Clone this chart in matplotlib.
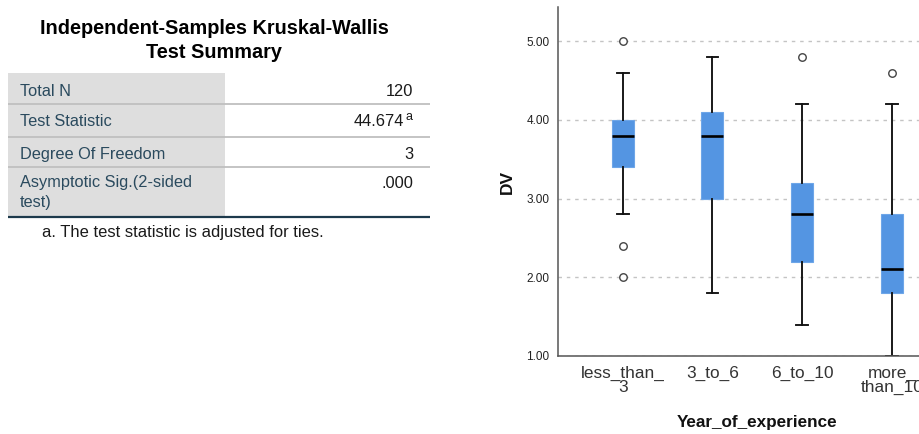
import matplotlib
matplotlib.use("Agg")
import matplotlib.pyplot as plt
from matplotlib.patches import Rectangle

plt.rcParams['font.family'] = ['Liberation Sans', 'DejaVu Sans']

# ---- test summary table ----
title_lines = ["Independent-Samples Kruskal-Wallis", "Test Summary"]
row_labels = ["Total N", "Test Statistic", "Degree Of Freedom", "Asymptotic Sig.(2-sided\ntest)"]
row_values = ["120", "44.674", "3", ".000"]
row_marks = ["", "a", "", ""]
footnote = "a. The test statistic is adjusted for ties."

# ---- box plot summary statistics ----
groups = ["less_than_\n3", "3_to_6", "6_to_10", "more_\nthan_10"]
whislo = [2.8, 1.8, 1.4, 1.0]
q1 = [3.4, 3.0, 2.2, 1.8]
med = [3.8, 3.8, 2.8, 2.1]
q3 = [4.0, 4.1, 3.2, 2.8]
whishi = [4.6, 4.8, 4.2, 4.2]
fliers = [[5.0, 2.4, 2.0], [], [4.8], [4.6]]
yticks = [1.0, 2.0, 3.0, 4.0, 5.0]

W, H = 920, 434
fig = plt.figure(figsize=(W / 100, H / 100), dpi=100)
fig.patch.set_facecolor("white")

# Table drawn in pixel space on a full-figure overlay
tab = fig.add_axes([0, 0, 1, 1])
tab.set_xlim(0, W)
tab.set_ylim(H, 0)
tab.axis("off")

title_baselines = [34, 58]
for line, yb in zip(title_lines, title_baselines):
    tab.text(214, yb, line, ha="center", va="baseline",
             fontsize=14.3, fontweight="bold", color="#000000")

x0, xg, x1 = 8, 225, 430
row_edges = [73, 104, 136.5, 166.5, 216.5]
tab.add_patch(Rectangle((x0, row_edges[0]), xg - x0, row_edges[-1] - row_edges[0],
                        facecolor="#dedede", edgecolor="none"))
for ye in row_edges[1:-1]:
    tab.plot([x0, x1], [ye, ye], color="#bfbfbf", lw=1.3, solid_capstyle="butt")
tab.plot([x0, x1], [row_edges[-1]] * 2, color="#1d3a4c", lw=1.6, solid_capstyle="butt")

baselines = [96, 126.5, 159, 187.5]
line_step = 19.5
label_col = "#2a4a5e"
fs = 11.8
for lab, val, mark, yb in zip(row_labels, row_values, row_marks, baselines):
    for k, part in enumerate(lab.split("\n")):
        tab.text(20, yb + k * line_step, part, ha="left", va="baseline",
                 fontsize=fs, color=label_col)
    if mark:
        tab.text(413, yb - 6.5, mark, ha="right", va="baseline", fontsize=9, color="#1a1a1a")
        tab.text(404, yb, val, ha="right", va="baseline", fontsize=fs, color="#1a1a1a")
    else:
        tab.text(413, yb, val, ha="right", va="baseline", fontsize=fs, color="#1a1a1a")

tab.text(42, 237.5, footnote, ha="left", va="baseline", fontsize=11.9, color="#1a1a1a")

# ---- box plot ----
ax_left = 557.7 / W
ax_bottom = (H - 356) / H
ax_height = (356 - 7.3) / H
ax_width = 399.2 / W
ax = fig.add_axes([ax_left, ax_bottom, ax_width, ax_height])

stats = []
for i in range(len(groups)):
    stats.append(dict(whislo=whislo[i], q1=q1[i], med=med[i], q3=q3[i],
                      whishi=whishi[i], fliers=fliers[i]))

positions = list(range(1, len(groups) + 1))
box_col = "#5495e2"
ax.bxp(stats, positions=positions, widths=0.245, patch_artist=True,
       showfliers=True, capwidths=0.13,
       boxprops=dict(facecolor=box_col, edgecolor="#6ea6e8", linewidth=0.8),
       medianprops=dict(color="#000000", linewidth=1.9, solid_capstyle="butt"),
       whiskerprops=dict(color="#111111", linewidth=1.35),
       capprops=dict(color="#111111", linewidth=1.35),
       flierprops=dict(marker="o", markersize=5.4, markerfacecolor="white",
                       markeredgecolor="#444444", markeredgewidth=1.0))

ax.set_xlim(0.275, 4.725)
ax.set_ylim(1.0, 5.428)
ax.set_yticks(yticks)
ax.set_yticklabels([f"{v:.2f}" for v in yticks], fontsize=8.5, color="#222222")
ax.set_xticks(positions)
ax.set_xticklabels(groups, fontsize=12.4, color="#333333", linespacing=0.95)
ax.tick_params(axis="both", length=0)
ax.tick_params(axis="y", pad=6)
ax.tick_params(axis="x", pad=7)

ax.yaxis.grid(True, color="#c4c4c4", linestyle=(0, (2.5, 3.5)), linewidth=1.0)
ax.set_axisbelow(True)
for s in ["top", "right"]:
    ax.spines[s].set_visible(False)
for s in ["left", "bottom"]:
    ax.spines[s].set_color("#555555")
    ax.spines[s].set_linewidth(1.1)

ax.set_ylabel("DV", fontsize=12.5, fontweight="bold", color="#111111", labelpad=8)
ax.set_xlabel("Year_of_experience", fontsize=12.3, fontweight="bold",
              color="#111111", labelpad=14)

fig.savefig("out.png", dpi=100, facecolor="white")
